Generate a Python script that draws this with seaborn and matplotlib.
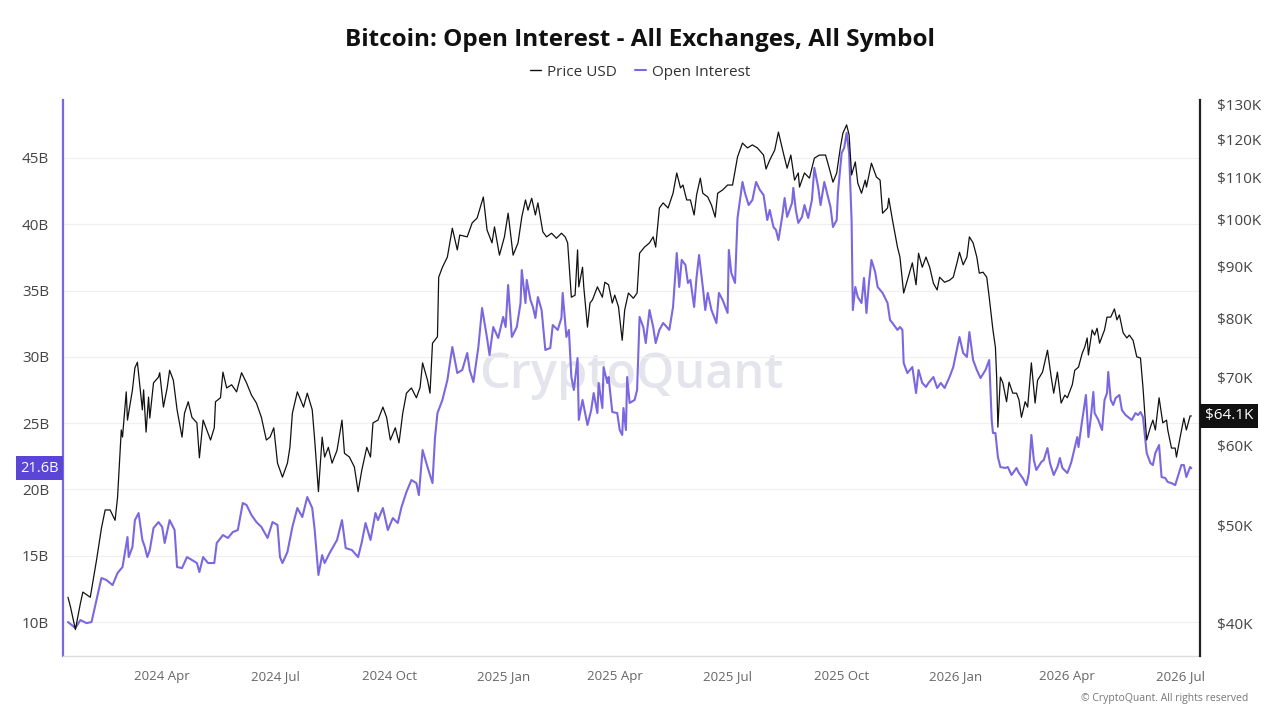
import numpy as np
import pandas as pd
import matplotlib
matplotlib.use("Agg")
import matplotlib.pyplot as plt
import matplotlib.dates as mdates
import matplotlib.transforms as mtransforms
from matplotlib.lines import Line2D
import seaborn as sns

# ---------------- data ----------------
START = "2024-01-16"

price_days = [0, 2, 6, 10, 12, 18, 23, 27, 30, 34, 38, 40, 43, 44, 47, 48, 52, 54, 56, 60,
              61, 63, 65, 66, 69, 73, 74, 77, 80, 82, 85, 88, 92, 94, 97, 100, 104, 106, 109, 112,
              115, 118, 119, 123, 125, 128, 132, 136, 140, 144, 148, 152, 156, 160, 163, 166, 169, 173, 177, 179,
              181, 185, 190, 193, 197, 199, 202, 205, 207, 210, 213, 217, 221, 223, 227, 231, 234, 237, 241, 244,
              246, 250, 254, 257, 260, 264, 267, 270, 273, 277, 281, 284, 286, 290, 292, 294, 298, 299, 302, 306,
              310, 314, 316, 322, 326, 330, 335, 338, 342, 344, 348, 352, 355, 359, 363, 366, 369, 371, 374, 377,
              379, 383, 386, 390, 394, 398, 401, 403, 406, 409, 411, 412, 415, 416, 419, 421, 423, 427, 431, 433,
              436, 439, 441, 444, 447, 449, 452, 456, 459, 461, 465, 469, 472, 474, 477, 480, 484, 488, 491, 494,
              496, 499, 502, 505, 507, 510, 512, 516, 519, 522, 524, 528, 532, 536, 540, 544, 548, 552, 556, 561,
              563, 566, 570, 573, 577, 580, 583, 586, 589, 590, 594, 598, 602, 606, 611, 614, 617, 620, 623, 625,
              628, 630, 632, 635, 637, 640, 643, 644, 648, 652, 655, 657, 661, 662, 665, 669, 671, 674, 677, 681,
              684, 686, 689, 692, 695, 698, 701, 703, 707, 711, 714, 717, 719, 722, 725, 727, 730, 733, 735, 738,
              741, 743, 746, 748, 749, 750, 752, 754, 757, 759, 762, 765, 767, 769, 772, 774, 777, 780, 782, 786,
              790, 793, 795, 798, 801, 804, 806, 810, 812, 815, 818, 820, 822, 823, 826, 828, 830, 832, 836, 838,
              841, 844, 846, 848, 851, 854, 856, 859, 862, 865, 867, 869, 870, 873, 875, 877, 880, 883, 886, 887,
              890, 893, 894, 897, 900, 902, 905, 906]

price_k = [42.5, 41.6, 39.5, 41.9, 43.0, 42.5, 46.2, 49.7, 51.8, 51.8, 50.6, 53.3, 62.1, 61.1, 67.7, 63.5, 68.0, 71.5, 72.4, 65.0,
           68.0, 61.8, 66.9, 63.8, 69.1, 70.0, 70.7, 65.4, 68.3, 71.1, 69.5, 65.0, 61.1, 64.5, 66.2, 63.9, 63.1, 58.3, 63.5, 62.1,
           60.7, 62.4, 66.2, 66.8, 70.8, 68.3, 68.8, 67.7, 70.7, 69.1, 67.2, 66.0, 63.9, 60.7, 61.1, 62.4, 57.6, 55.8, 57.6, 59.7,
           64.5, 67.7, 65.4, 67.5, 65.0, 60.7, 54.0, 61.1, 58.4, 59.7, 57.6, 59.3, 63.5, 58.9, 58.4, 57.1, 54.0, 56.7, 59.7, 58.4,
           63.1, 63.5, 65.4, 63.9, 60.7, 62.4, 60.3, 64.5, 67.5, 68.3, 66.8, 68.4, 72.3, 69.5, 67.5, 75.6, 76.7, 87.8, 89.8, 91.9,
           98.1, 93.4, 96.6, 96.2, 99.3, 100.4, 105.3, 97.7, 94.9, 98.4, 92.3, 96.2, 101.5, 92.3, 94.9, 100.6, 104.6, 102.2, 105.0, 101.1,
           103.9, 97.3, 96.2, 97.0, 95.9, 97.0, 96.2, 94.9, 83.9, 84.3, 93.4, 85.9, 89.8, 85.9, 78.4, 82.8, 83.4, 85.9, 83.9, 86.8,
           86.3, 82.8, 84.3, 82.1, 76.1, 81.5, 84.7, 83.7, 84.7, 92.7, 94.0, 94.9, 96.2, 94.0, 102.7, 103.9, 102.7, 106.2, 111.2, 107.5,
           108.2, 104.6, 104.6, 101.1, 105.8, 109.9, 106.2, 105.3, 103.4, 100.6, 106.2, 107.0, 108.2, 108.2, 115.3, 119.0, 117.7, 118.5, 117.7, 115.8,
           112.2, 114.5, 117.1, 122.0, 116.3, 112.4, 115.8, 109.4, 111.2, 107.7, 111.2, 109.9, 115.0, 115.8, 115.8, 112.4, 108.9, 111.2, 117.9, 121.7,
           124.0, 121.2, 110.7, 114.0, 108.7, 106.2, 109.4, 107.7, 113.7, 110.2, 109.4, 101.5, 102.7, 105.0, 99.9, 94.0, 91.9, 84.7, 87.2, 90.7,
           86.3, 92.7, 89.8, 91.9, 89.8, 86.6, 85.3, 87.8, 86.8, 87.2, 87.8, 90.7, 92.9, 90.3, 91.9, 96.2, 94.9, 91.9, 88.6, 88.8,
           87.8, 83.9, 77.9, 74.9, 70.0, 62.5, 70.0, 69.1, 66.2, 69.2, 67.5, 67.5, 66.5, 63.9, 66.2, 65.4, 72.3, 66.0, 69.5, 70.8,
           74.4, 70.0, 67.5, 70.8, 66.0, 67.2, 66.8, 68.8, 71.1, 71.6, 73.9, 74.9, 76.5, 73.6, 77.9, 77.0, 78.2, 75.6, 77.9, 80.2,
           80.2, 81.7, 79.7, 80.6, 77.4, 76.5, 77.0, 76.1, 73.3, 73.1, 68.4, 63.1, 60.7, 62.5, 63.5, 62.1, 66.8, 63.1, 63.5, 62.1,
           59.6, 59.6, 58.4, 61.1, 63.8, 62.1, 64.1, 64.1]

oi_days = [0, 6, 10, 15, 19, 23, 27, 31, 36, 40, 44, 48, 49, 52, 54, 57, 60, 62, 64, 66,
           69, 73, 76, 78, 82, 86, 88, 92, 96, 100, 104, 106, 109, 113, 118, 120, 125, 129, 133, 137,
           141, 144, 148, 152, 156, 161, 165, 169, 171, 173, 177, 181, 185, 189, 193, 197, 199, 202, 205, 207,
           211, 217, 221, 224, 229, 234, 237, 240, 244, 248, 250, 254, 258, 262, 266, 269, 273, 277, 281, 283,
           286, 290, 294, 296, 298, 302, 306, 310, 314, 318, 322, 324, 327, 331, 334, 338, 340, 343, 347, 351,
           353, 355, 358, 362, 365, 366, 369, 370, 373, 375, 377, 379, 382, 385, 389, 391, 395, 398, 399, 402,
           404, 406, 408, 411, 412, 415, 419, 422, 424, 427, 428, 431, 432, 435, 436, 439, 443, 445, 447, 448,
           450, 451, 453, 457, 459, 461, 464, 466, 469, 472, 474, 477, 480, 483, 485, 488, 491, 493, 495, 498,
           500, 502, 505, 507, 509, 512, 514, 516, 519, 523, 525, 528, 532, 533, 535, 538, 540, 544, 546, 549,
           552, 555, 558, 561, 564, 566, 569, 571, 573, 576, 578, 580, 584, 585, 587, 589, 592, 594, 597, 600,
           602, 605, 607, 610, 612, 615, 617, 620, 621, 624, 626, 628, 630, 632, 633, 635, 637, 640, 642, 644,
           646, 648, 651, 653, 657, 661, 663, 665, 669, 671, 673, 674, 677, 681, 684, 686, 689, 692, 694, 698,
           701, 704, 707, 711, 714, 719, 722, 725, 727, 730, 733, 736, 740, 743, 745, 746, 748, 750, 752, 756,
           758, 761, 765, 767, 770, 773, 775, 777, 779, 781, 785, 787, 790, 792, 795, 798, 800, 802, 806, 809,
           810, 814, 815, 818, 819, 821, 823, 825, 827, 828, 831, 834, 836, 838, 839, 841, 843, 845, 848, 850,
           853, 855, 858, 861, 863, 865, 867, 870, 873, 875, 877, 880, 882, 885, 887, 890, 893, 895, 898, 900,
           902, 905, 906]

oi_b = [10.0, 9.55, 10.15, 9.92, 10.0, 11.66, 13.32, 13.17, 12.79, 13.70, 14.15, 16.41, 14.90, 15.66, 17.69, 18.22, 16.19, 15.66, 14.90, 15.43,
        17.09, 17.54, 17.17, 15.96, 17.69, 16.94, 14.15, 14.07, 14.90, 14.68, 14.45, 13.77, 14.90, 14.45, 14.45, 15.96, 16.56, 16.34, 16.79, 16.94,
        18.98, 18.83, 18.07, 17.54, 17.17, 16.34, 17.54, 17.32, 14.90, 14.45, 15.28, 17.17, 18.60, 17.92, 19.43, 18.60, 16.94, 13.55, 15.05, 14.45,
        15.20, 16.19, 17.69, 15.58, 15.43, 14.90, 16.03, 17.47, 16.19, 18.22, 17.69, 18.60, 16.94, 17.84, 17.47, 18.67, 19.81, 20.71, 20.48, 19.58,
        22.97, 21.69, 20.48, 23.88, 25.76, 26.75, 28.25, 30.74, 28.78, 29.01, 30.29, 29.01, 28.10, 30.74, 33.68, 31.42, 30.14, 32.25, 31.42, 33.01,
        32.25, 35.42, 31.50, 32.25, 34.06, 36.55, 34.06, 35.80, 34.29, 33.76, 32.93, 34.51, 33.53, 30.52, 30.67, 32.40, 32.03, 32.93, 34.82, 31.50,
        32.03, 28.48, 27.50, 29.91, 25.24, 26.75, 24.86, 25.99, 27.27, 25.76, 28.03, 26.14, 29.23, 28.03, 28.48, 25.84, 25.76, 24.48, 24.11, 26.14,
        24.48, 28.48, 26.52, 26.75, 27.50, 33.01, 32.25, 31.04, 33.53, 32.25, 31.04, 32.03, 32.55, 32.25, 32.03, 33.76, 37.83, 35.27, 37.31, 36.93,
        35.57, 35.80, 33.76, 36.02, 37.68, 35.27, 33.53, 34.82, 33.53, 32.55, 34.82, 34.29, 33.31, 38.06, 36.33, 35.57, 40.47, 43.19, 42.36, 41.45,
        41.83, 43.19, 42.59, 42.21, 40.32, 41.08, 39.79, 39.57, 38.81, 40.55, 41.98, 40.55, 41.61, 42.74, 41.08, 40.10, 40.55, 41.45, 40.47, 41.83,
        44.25, 42.81, 41.45, 43.19, 42.44, 41.30, 39.79, 40.32, 42.36, 45.38, 45.75, 46.89, 45.38, 40.32, 33.53, 35.27, 34.51, 34.06, 35.95, 33.31,
        35.57, 37.31, 36.40, 35.27, 34.82, 34.06, 32.78, 32.55, 32.03, 32.25, 32.03, 29.54, 28.78, 29.23, 27.27, 29.01, 28.03, 27.73, 28.03, 28.48,
        27.65, 28.03, 27.65, 28.48, 29.23, 31.50, 30.29, 29.99, 31.87, 29.76, 29.01, 28.40, 29.01, 29.76, 25.24, 24.26, 24.26, 22.45, 21.69, 21.62,
        21.69, 21.09, 21.62, 21.24, 20.86, 20.33, 21.24, 24.11, 22.22, 21.47, 22.07, 22.22, 23.12, 21.99, 21.09, 21.69, 22.37, 21.62, 21.24, 21.99,
        22.37, 23.95, 23.20, 25.24, 25.84, 27.12, 23.95, 25.46, 27.35, 25.76, 25.24, 24.48, 26.75, 27.27, 28.86, 26.75, 26.37, 26.90, 27.12, 25.99,
        25.61, 25.46, 25.24, 25.76, 25.61, 25.84, 25.46, 22.75, 21.99, 21.84, 22.75, 23.35, 20.94, 20.86, 20.56, 20.48, 20.33, 20.94, 21.84, 21.84,
        20.94, 21.69, 21.6]

oi_ticks = [10, 15, 20, 25, 30, 35, 40, 45]
price_ticks = [40, 50, 60, 70, 80, 90, 100, 110, 120, 130]
last_oi_label = "21.6B"
last_price_label = "$64.1K"
title = "Bitcoin: Open Interest - All Exchanges, All Symbol"

# ---------------- frames ----------------
base = pd.Timestamp(START)
price_df = pd.DataFrame({"date": base + pd.to_timedelta(price_days, unit="D"), "price": price_k})
oi_df = pd.DataFrame({"date": base + pd.to_timedelta(oi_days, unit="D"), "oi": oi_b})

# ---------------- style ----------------
sns.set_style("white")
plt.rcParams["font.family"] = ["Open Sans", "DejaVu Sans"]

PURPLE = "#7b68e0"
PURPLE_BOX = "#5a45d6"

fig = plt.figure(figsize=(12.8, 7.2), dpi=100)
ax = fig.add_axes([63 / 1280, 1 - 656 / 720, (1200 - 63) / 1280, (656 - 100) / 720])
ax2 = ax.twinx()

sns.lineplot(data=oi_df, x="date", y="oi", ax=ax, color=PURPLE, linewidth=1.5, zorder=3)
sns.lineplot(data=price_df, x="date", y="price", ax=ax2, color="#111111", linewidth=0.9, zorder=3)

# axes ranges
ax.set_xlim(base - pd.Timedelta(days=4), base + pd.Timedelta(days=913))
ax.set_ylim(7.44, 49.37)
ax2.set_yscale("log")
ax2.set_ylim(37.2, 131.2)

# left axis
ax.set_yticks(oi_ticks)
ax.set_yticklabels([f"{t}B" for t in oi_ticks])
ax.tick_params(axis="y", length=0, pad=10, labelsize=11, labelcolor="#444444")
ax.yaxis.grid(True, color="#f0f0f0", linewidth=0.9)
ax.xaxis.grid(False)
ax.set_xlabel("")
ax.set_ylabel("")

# right axis
ax2.yaxis.set_major_locator(matplotlib.ticker.FixedLocator(price_ticks))
ax2.yaxis.set_minor_locator(matplotlib.ticker.NullLocator())
ax2.set_yticklabels([f"${t}K" for t in price_ticks])
ax2.tick_params(axis="y", length=0, pad=12, labelsize=11, labelcolor="#444444")
ax2.set_ylabel("")
ax2.grid(False)

# x axis
ax.xaxis.set_major_locator(mdates.MonthLocator(bymonth=[1, 4, 7, 10]))
ax.xaxis.set_major_formatter(mdates.DateFormatter("%Y %b"))
ax.tick_params(axis="x", length=4, color="#e6e6e6", pad=6, labelsize=9.5, labelcolor="#666666")

# spines
for s in ["top", "right"]:
    ax.spines[s].set_visible(False)
ax.spines["left"].set_color(PURPLE)
ax.spines["left"].set_linewidth(1.6)
ax.spines["bottom"].set_color("#dddddd")
ax.spines["bottom"].set_linewidth(1.0)
for s in ["top", "left", "bottom"]:
    ax2.spines[s].set_visible(False)
ax2.spines["right"].set_color("#222222")
ax2.spines["right"].set_linewidth(1.6)

# watermark
ax.text(0.5, 0.505, "CryptoQuant", transform=ax.transAxes, ha="center", va="center",
        fontsize=35, color="#e4e4ec", zorder=0, fontweight="semibold")

# last value labels
trans_l = mtransforms.blended_transform_factory(ax.transAxes, ax.transData)
ax.text(-0.004, oi_b[-1], last_oi_label, transform=trans_l, ha="right", va="center",
        fontsize=10.5, color="white", zorder=5, clip_on=False,
        bbox=dict(boxstyle="square,pad=0.3", fc=PURPLE_BOX, ec="none"))
trans_r = mtransforms.blended_transform_factory(ax2.transAxes, ax2.transData)
ax2.text(1.004, price_k[-1], last_price_label, transform=trans_r, ha="left", va="center",
         fontsize=11, color="white", zorder=5, clip_on=False,
         bbox=dict(boxstyle="square,pad=0.3", fc="#111111", ec="none"))

# title & legend
fig.text(0.5, 1 - 40 / 720, title, ha="center", va="center", fontsize=17.5, fontweight="bold",
         color="#111111")
handles = [Line2D([0], [0], color="#111111", lw=1.0), Line2D([0], [0], color=PURPLE, lw=1.5)]
fig.legend(handles, ["Price USD", "Open Interest"], loc="center", bbox_to_anchor=(0.5, 1 - 72 / 720),
           ncol=2, frameon=False, fontsize=11, handlelength=0.7, handletextpad=0.4, columnspacing=1.2,
           labelcolor="#333333")

fig.text(1248 / 1280, 1 - 698 / 720, "© CryptoQuant. All rights reserved", ha="right", va="center",
         fontsize=7.5, color="#777777")

fig.savefig("out.png", dpi=100)
